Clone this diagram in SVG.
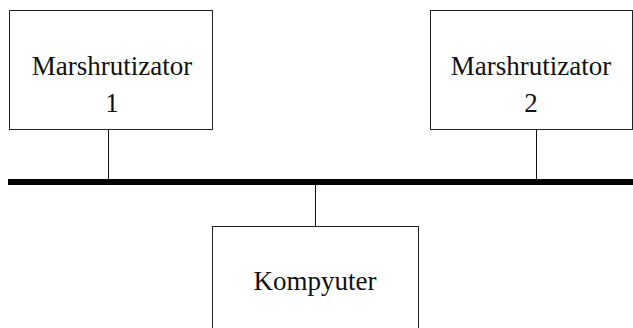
<svg xmlns="http://www.w3.org/2000/svg" width="633" height="328" viewBox="0 0 633 328">
<style>
.box{fill:#fff;stroke:#222;stroke-width:1}
.lbl{font-family:"Liberation Serif","Times New Roman",serif;font-size:27px;fill:#111;text-anchor:middle}
.link{stroke:#111;stroke-width:1;fill:none}
.bus{stroke:#000;stroke-width:6;fill:none}
</style>
<g id="connectors">
<line class="bus" x1="8" y1="182" x2="633" y2="182"/>
<line class="link" x1="108.5" y1="130" x2="108.5" y2="180"/>
<line class="link" x1="536.5" y1="130" x2="536.5" y2="180"/>
<line class="link" x1="315.5" y1="184" x2="315.5" y2="226"/>
</g>
<g id="router1">
<rect class="box" x="9.5" y="10.5" width="203" height="119"/>
<text class="lbl" x="112" y="75">Marshrutizator</text>
<text class="lbl" x="112" y="112">1</text>
</g>
<g id="router2">
<rect class="box" x="430.5" y="10.5" width="202" height="119"/>
<text class="lbl" x="531" y="75">Marshrutizator</text>
<text class="lbl" x="531" y="112">2</text>
</g>
<g id="computer">
<rect class="box" x="212.5" y="226.5" width="206" height="110"/>
<text class="lbl" x="315" y="290">Kompyuter</text>
</g>
</svg>
